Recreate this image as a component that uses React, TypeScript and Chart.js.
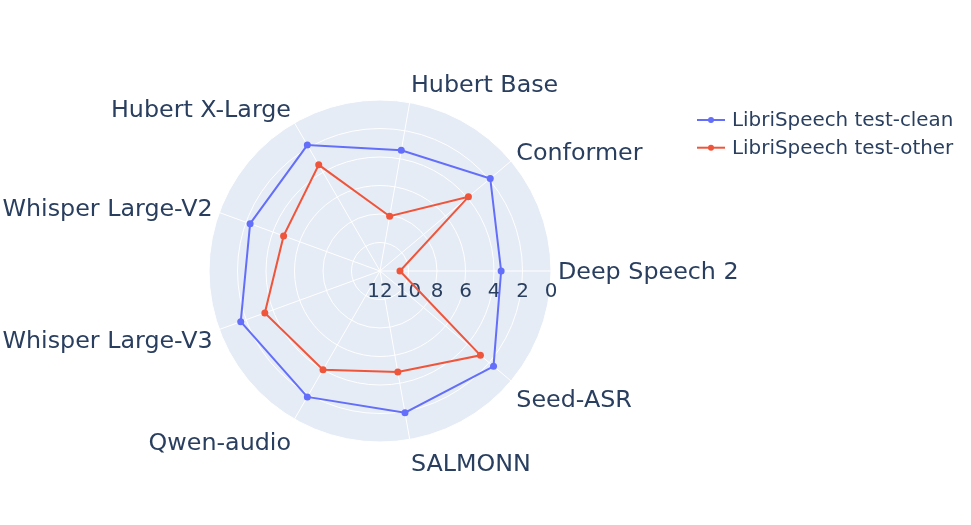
import React, { useEffect, useRef } from "react";
import { Chart, registerables } from "chart.js";

Chart.register(...registerables);

// Categories in counter-clockwise order, starting at 0° (right)
const categories = [
  "Deep Speech 2",
  "Conformer",
  "Hubert Base",
  "Hubert X-Large",
  "Whisper Large-V2",
  "Whisper Large-V3",
  "Qwen-audio",
  "SALMONN",
  "Seed-ASR",
];

const testClean = [3.5, 1.9, 3.4, 1.8, 2.3, 1.6, 1.8, 1.9, 1.6];
const testOther = [10.6, 3.9, 8.1, 3.4, 4.8, 3.4, 4.0, 4.8, 2.8];

const seriesNames = ["LibriSpeech test-clean", "LibriSpeech test-other"];
const seriesColors = ["#636efa", "#ef553b"];

const radialMin = 0;
const radialMax = 12;
const radialStep = 2;

const FONT = '"DejaVu Sans", Verdana, sans-serif';
const TEXT = "#2a3f5f";
const BG = "#e5ecf6";

// Chart.js goes clockwise: reorder so the picture reads counter-clockwise
const order = [0, ...categories.map((_, i) => i).slice(1).reverse()];
const pick = <T,>(arr: T[]) => order.map((i) => arr[i]);

const polarDecor = {
  id: "polarDecor",
  beforeDraw(chart: any) {
    const s = chart.scales.r;
    const ctx = chart.ctx;
    ctx.save();
    ctx.beginPath();
    ctx.arc(s.xCenter, s.yCenter, s.drawingArea, 0, Math.PI * 2);
    ctx.fillStyle = BG;
    ctx.fill();
    ctx.restore();
  },
  beforeDatasetsDraw(chart: any) {
    const s = chart.scales.r;
    const ctx = chart.ctx;
    ctx.save();
    // spokes
    ctx.strokeStyle = "#ffffff";
    ctx.lineWidth = 1;
    const n = chart.data.labels.length;
    for (let i = 0; i < n; i++) {
      const p = s.getPointPosition(i, s.drawingArea);
      ctx.beginPath();
      ctx.moveTo(s.xCenter, s.yCenter);
      ctx.lineTo(p.x, p.y);
      ctx.stroke();
    }
    // radial tick labels along 0°
    ctx.fillStyle = TEXT;
    ctx.font = `19.9px ${FONT}`;
    ctx.textAlign = "center";
    ctx.textBaseline = "alphabetic";
    s.ticks.forEach((t: any) => {
      const d = s.getDistanceFromCenterForValue(t.value);
      ctx.fillText(String(t.value), s.xCenter + d, s.yCenter + 26);
    });
    ctx.restore();
  },
  afterDraw(chart: any) {
    const s = chart.scales.r;
    const ctx = chart.ctx;
    ctx.save();
    // angular labels (plotly-like placement)
    const fs = 23.8;
    const pad = 7;
    ctx.font = `${fs}px ${FONT}`;
    ctx.fillStyle = TEXT;
    ctx.textBaseline = "alphabetic";
    const labels = chart.data.labels as string[];
    labels.forEach((lab, i) => {
      const p = s.getPointPosition(i, s.drawingArea);
      const dx = p.x - s.xCenter;
      const dy = s.yCenter - p.y;
      const c = dx / s.drawingArea;
      const sn = dy / s.drawingArea;
      ctx.textAlign = Math.abs(c) < 0.1 ? "center" : c > 0 ? "left" : "right";
      const ff = sn > 0 ? 0.2 : 1;
      const x = p.x + c * pad;
      const y = p.y - sn * (pad + fs * ff) + Math.abs(c) * fs * 0.35;
      ctx.fillText(lab, x, y);
    });
    // legend
    ctx.font = `19.9px ${FONT}`;
    ctx.textAlign = "left";
    ctx.textBaseline = "middle";
    chart.data.datasets.forEach((ds: any, i: number) => {
      const y = 120 + i * 27.7;
      ctx.strokeStyle = ds.borderColor;
      ctx.lineWidth = 2;
      ctx.beginPath();
      ctx.moveTo(697, y);
      ctx.lineTo(725, y);
      ctx.stroke();
      ctx.fillStyle = ds.borderColor;
      ctx.beginPath();
      ctx.arc(711, y, 3, 0, Math.PI * 2);
      ctx.fill();
      ctx.fillStyle = TEXT;
      ctx.fillText(ds.label, 732, y + 1);
    });
    ctx.restore();
  },
};

export default function App() {
  const ref = useRef<HTMLCanvasElement | null>(null);
  useEffect(() => {
    if (!ref.current) return;
    const chart = new Chart(ref.current, {
      type: "radar",
      data: {
        labels: pick(categories),
        datasets: [
          {
            label: seriesNames[0],
            data: pick(testClean),
            borderColor: seriesColors[0],
            backgroundColor: seriesColors[0],
            pointBackgroundColor: seriesColors[0],
            borderWidth: 2,
            pointRadius: 3.5,
            pointBorderWidth: 0,
            fill: false,
            order: 1,
          },
          {
            label: seriesNames[1],
            data: pick(testOther),
            borderColor: seriesColors[1],
            backgroundColor: seriesColors[1],
            pointBackgroundColor: seriesColors[1],
            borderWidth: 2,
            pointRadius: 3.5,
            pointBorderWidth: 0,
            fill: false,
            order: 0,
          },
        ],
      },
      options: {
        responsive: false,
        animation: false,
        events: [],
        layout: { padding: { left: 209, top: 100, right: 420, bottom: 83 } },
        plugins: { legend: { display: false }, tooltip: { enabled: false } },
        elements: { line: { tension: 0 } },
        scales: {
          r: {
            reverse: true,
            min: radialMin,
            max: radialMax,
            startAngle: 90,
            ticks: { display: false, stepSize: radialStep },
            grid: { circular: true, color: "#ffffff", lineWidth: 1 },
            angleLines: { display: false },
            pointLabels: { display: false },
          },
        },
      },
      plugins: [polarDecor],
    });
    return () => chart.destroy();
  }, []);
  return (
    <div style={{ position: "fixed", left: 0, top: 0, width: 971, height: 525 }}>
      <canvas ref={ref} width={971} height={525} style={{ display: "block" }} />
    </div>
  );
}
